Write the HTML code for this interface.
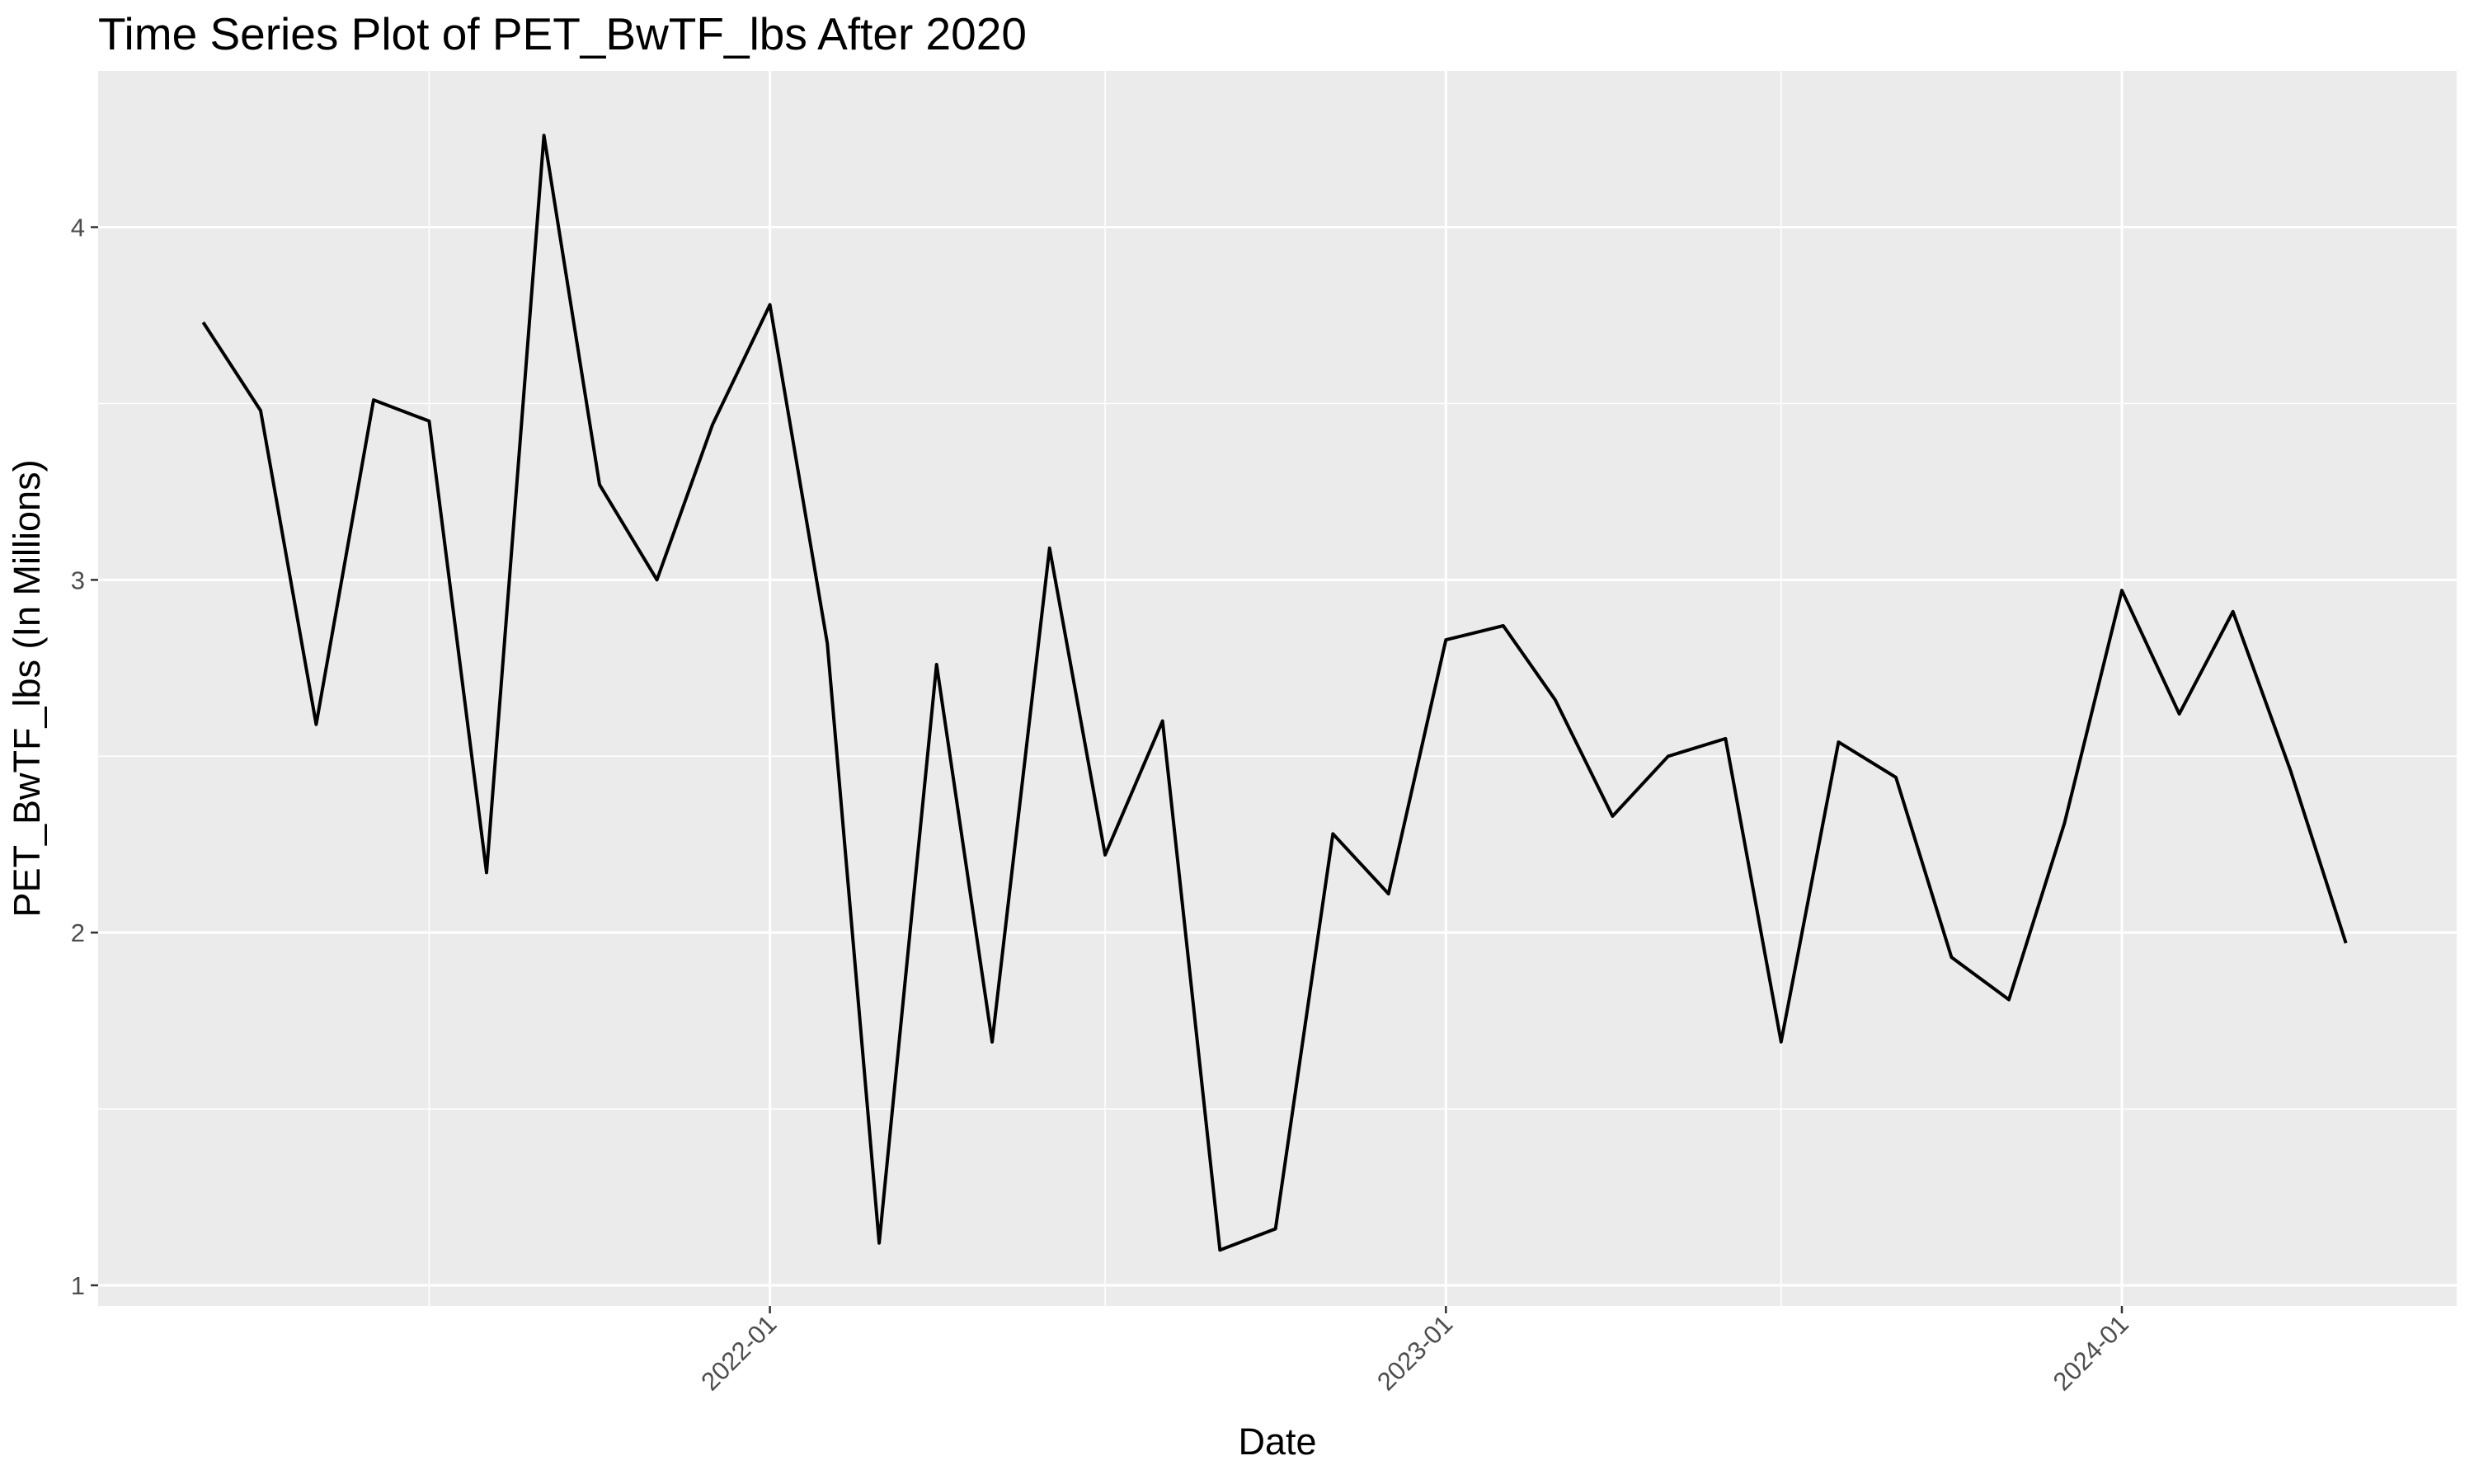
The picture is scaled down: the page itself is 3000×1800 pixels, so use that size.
<!DOCTYPE html>
<html><head><meta charset="utf-8"><style>
html,body{margin:0;padding:0;background:#fff;}
svg{display:block;font-family:"Liberation Sans",Arial,sans-serif;}
</style></head><body>
<svg id="chart" width="3000" height="1800" viewBox="0 0 3000 1800">
<rect x="0" y="0" width="3000" height="1800" fill="#fff"/>
<text x="119" y="60" font-size="55" fill="#000">Time Series Plot of PET_BwTF_lbs After 2020</text>
<rect x="119" y="86" width="2860" height="1498" fill="#ebebeb"/>
<g id="grid"></g>
<g id="axes"></g>
<path id="line" fill="none" stroke="#000" stroke-width="4" stroke-linejoin="round"/>
<text x="1549" y="1764" font-size="45" text-anchor="middle" fill="#000">Date</text>
<text transform="translate(48,835) rotate(-90)" font-size="45" text-anchor="middle" fill="#000">PET_BwTF_lbs (In Millions)</text>
</svg>
<script>
const dates = ["2021-03","2021-04","2021-05","2021-06","2021-07","2021-08","2021-09","2021-10","2021-11","2021-12",
"2022-01","2022-02","2022-03","2022-04","2022-05","2022-06","2022-07","2022-08","2022-09","2022-10","2022-11","2022-12",
"2023-01","2023-02","2023-03","2023-04","2023-05","2023-06","2023-07","2023-08","2023-09","2023-10","2023-11","2023-12",
"2024-01","2024-02","2024-03","2024-04","2024-05"];
const values = [3.73,3.48,2.59,3.51,3.45,2.17,4.26,3.27,3.00,3.44,
3.78,2.82,1.12,2.76,1.69,3.09,2.22,2.60,1.10,1.16,2.28,2.11,
2.83,2.87,2.66,2.33,2.50,2.55,1.69,2.54,2.44,1.93,1.81,2.31,
2.97,2.62,2.91,2.46,1.97];
const yTicks = [1,2,3,4];
const yMinor = [1.5,2.5,3.5];
const xTicks = ["2022-01","2023-01","2024-01"];
const xMinor = ["2021-07","2022-07","2023-07"];

const NS="http://www.w3.org/2000/svg";
function day(s){const p=s.split("-");return Date.UTC(+p[0],+p[1]-1,1)/86400000;}
const d0=day("2022-01"), d1=day("2024-01");
function xs(s){return 933.6+(day(s)-d0)*(2573-933.6)/(d1-d0);}
function ys(v){return 1559-(v-1)*(1559-275.5)/3;}
const L=119,R=2979,T=86,B=1584;
const grid=document.getElementById("grid"), axes=document.getElementById("axes");
function mk(tag,attrs,parent){const e=document.createElementNS(NS,tag);for(const k in attrs)e.setAttribute(k,attrs[k]);parent.appendChild(e);return e;}
yMinor.forEach(v=>{const e=mk("line",{x1:L,x2:R,y1:ys(v),y2:ys(v),stroke:"#fff","stroke-width":1.5},grid);

});
xMinor.forEach(s=>{const e=mk("line",{x1:xs(s),x2:xs(s),y1:T,y2:B,stroke:"#fff","stroke-width":1.5},grid);

});
yTicks.forEach(v=>{const y=ys(v);
const g=mk("line",{x1:L,x2:R,y1:y,y2:y,stroke:"#fff","stroke-width":3},grid);


const t=mk("line",{x1:L-9,x2:L,y1:y,y2:y,stroke:"#333","stroke-width":2.5},axes);


const l=mk("text",{x:L-16,y:y+11,"font-size":31,"text-anchor":"end",fill:"#4d4d4d"},axes);l.textContent=v;

});
xTicks.forEach(s=>{const x=xs(s);
const g=mk("line",{x1:x,x2:x,y1:T,y2:B,stroke:"#fff","stroke-width":3},grid);


const t=mk("line",{x1:x,x2:x,y1:B,y2:B+9,stroke:"#333","stroke-width":2.5},axes);


const l=mk("text",{transform:`translate(${x+10},${B+24}) rotate(-45)`,"font-size":31,"text-anchor":"end",fill:"#4d4d4d"},axes);l.textContent=s;

});
let d="";dates.forEach((s,i)=>{d+=(i?"L":"M")+xs(s).toFixed(1)+","+ys(values[i]).toFixed(1);});
document.getElementById("line").setAttribute("d",d);
</script>
</body></html>
